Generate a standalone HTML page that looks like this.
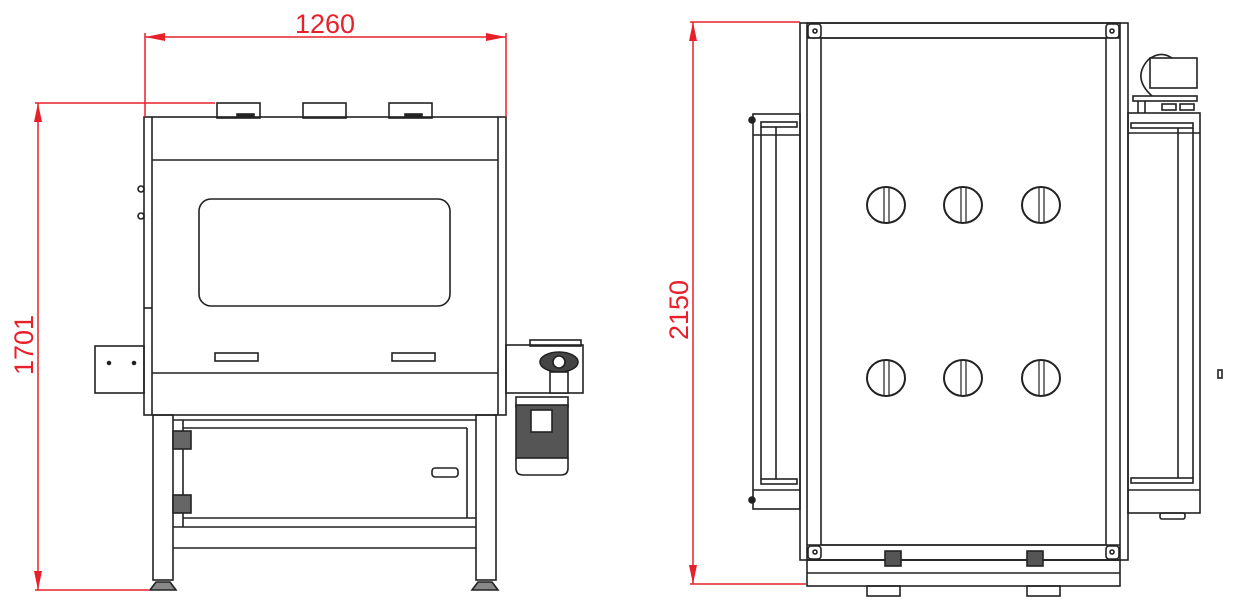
<!DOCTYPE html>
<html><head><meta charset="utf-8"><style>
html,body{margin:0;padding:0;background:#fff;}
svg{display:block;}
text{font-family:"Liberation Sans",sans-serif;}
</style></head><body>
<svg width="1236" height="612" viewBox="0 0 1236 612" xmlns="http://www.w3.org/2000/svg">
<g stroke="#222" stroke-width="1.6" fill="none">
<!-- LEFT VIEW -->
<rect x="217" y="103" width="43" height="15"/>
<rect x="303" y="103" width="43" height="15"/>
<rect x="389" y="103" width="43" height="15"/>
<rect x="237" y="114" width="17" height="3" fill="#222"/>
<rect x="405" y="114" width="17" height="3" fill="#222"/>
<rect x="144" y="117" width="362" height="298"/>
<line x1="152" y1="117" x2="152" y2="415"/>
<line x1="498" y1="117" x2="498" y2="415"/>
<line x1="152" y1="160" x2="498" y2="160"/>
<line x1="152" y1="373" x2="498" y2="373"/>
<line x1="152" y1="308" x2="144" y2="308"/>
<rect x="199" y="199" width="251" height="107" rx="12"/>
<circle cx="141" cy="189" r="3"/><circle cx="141" cy="216" r="3"/>
<rect x="215" y="353" width="43" height="8"/>
<rect x="392" y="353" width="43" height="8"/>
<rect x="95" y="346" width="49" height="47"/>
<circle cx="109" cy="363" r="1.5" fill="#222"/><circle cx="134" cy="363" r="1.5" fill="#222"/>
<rect x="506" y="345" width="77" height="48"/>
<rect x="530" y="340" width="51" height="6"/>
<ellipse cx="559" cy="362" rx="19" ry="10" fill="#444"/>
<circle cx="559" cy="362" r="6" fill="#fff"/>
<rect x="550" y="372" width="18" height="21" fill="#fff"/>
<rect x="516" y="397" width="52" height="10"/>
<rect x="516" y="405" width="52" height="53" fill="#555"/>
<rect x="531" y="410" width="21" height="22" fill="#fff"/>
<path d="M516 458 L516 468 Q516 475 523 475 L561 475 Q568 475 568 468 L568 458"/>
<!-- stand -->
<rect x="153" y="415" width="20" height="165"/>
<rect x="476" y="415" width="20" height="165"/>
<line x1="173" y1="420" x2="476" y2="420"/>
<line x1="183" y1="428" x2="467" y2="428"/>
<line x1="183" y1="420" x2="183" y2="527"/>
<line x1="467" y1="428" x2="467" y2="518"/>
<line x1="183" y1="518" x2="476" y2="518"/>
<line x1="173" y1="527" x2="476" y2="527"/>
<line x1="173" y1="548" x2="476" y2="548"/>
<rect x="173" y="431" width="18" height="18" fill="#666"/>
<rect x="173" y="495" width="18" height="18" fill="#666"/>
<rect x="432" y="468" width="26" height="9" rx="3"/>
<path d="M150 590 L156 582 L170 582 L176 590 Z" fill="#888"/>
<path d="M472 590 L478 582 L492 582 L498 590 Z" fill="#888"/>
<!-- RIGHT VIEW -->
<rect x="800" y="23" width="328" height="537"/>
<rect x="807" y="23" width="313" height="537"/>
<rect x="821" y="38" width="285" height="507"/>
<line x1="807" y1="38" x2="1120" y2="38"/>
<line x1="807" y1="545" x2="1120" y2="545"/>
<rect x="807" y="560" width="313" height="26"/>
<line x1="807" y1="573" x2="1120" y2="573"/>
<rect x="867" y="586" width="33" height="10"/>
<rect x="1027" y="586" width="33" height="10"/>
<rect x="808" y="24" width="13" height="14" rx="3"/><circle cx="815" cy="31" r="2"/>
<rect x="1106" y="24" width="13" height="14" rx="3"/><circle cx="1112" cy="31" r="2"/>
<rect x="808" y="546" width="13" height="13" rx="3"/><circle cx="815" cy="552" r="2"/>
<rect x="1106" y="546" width="13" height="13" rx="3"/><circle cx="1112" cy="552" r="2"/>
<rect x="885" y="551" width="16" height="15" fill="#555"/>
<rect x="1027" y="551" width="16" height="15" fill="#555"/>
<g stroke-width="2">
<ellipse cx="886" cy="205" rx="19" ry="18"/><ellipse cx="963" cy="205" rx="19" ry="18"/><ellipse cx="1041" cy="205" rx="19" ry="18"/>
<ellipse cx="886" cy="378" rx="19" ry="18"/><ellipse cx="963" cy="378" rx="19" ry="18"/><ellipse cx="1041" cy="378" rx="19" ry="18"/>
</g>
<g stroke-width="1.2">
<line x1="884" y1="188" x2="884" y2="222"/><line x1="889" y1="188" x2="889" y2="222"/>
<line x1="961" y1="188" x2="961" y2="222"/><line x1="966" y1="188" x2="966" y2="222"/>
<line x1="1039" y1="188" x2="1039" y2="222"/><line x1="1044" y1="188" x2="1044" y2="222"/>
<line x1="884" y1="361" x2="884" y2="395"/><line x1="889" y1="361" x2="889" y2="395"/>
<line x1="961" y1="361" x2="961" y2="395"/><line x1="966" y1="361" x2="966" y2="395"/>
<line x1="1039" y1="361" x2="1039" y2="395"/><line x1="1044" y1="361" x2="1044" y2="395"/>
</g>
<!-- left side conveyor -->
<rect x="753" y="114" width="47" height="395"/>
<line x1="753" y1="135" x2="800" y2="135"/>
<line x1="753" y1="490" x2="800" y2="490"/>
<rect x="761" y="122" width="36" height="5"/>
<rect x="761" y="479" width="36" height="5"/>
<line x1="761" y1="127" x2="761" y2="479"/>
<line x1="776" y1="127" x2="776" y2="479"/>
<circle cx="752" cy="120" r="3" fill="#222"/><circle cx="752" cy="500" r="3" fill="#222"/>
<!-- right side conveyor -->
<rect x="1128" y="113" width="72" height="400"/>
<line x1="1128" y1="133" x2="1200" y2="133"/>
<line x1="1128" y1="490" x2="1200" y2="490"/>
<rect x="1131" y="123" width="62" height="5"/>
<rect x="1131" y="478" width="62" height="5"/>
<line x1="1193" y1="128" x2="1193" y2="478"/>
<line x1="1178" y1="128" x2="1178" y2="478"/>
<rect x="1160" y="513" width="25" height="6" rx="2"/>
<path d="M1152 96 Q1132 78 1148 60 Q1160 50 1172 58"/>
<rect x="1150" y="58" width="47" height="30"/>
<rect x="1133" y="96" width="64" height="5"/>
<line x1="1138" y1="101" x2="1138" y2="113"/><line x1="1145" y1="101" x2="1145" y2="113"/>
<rect x="1162" y="104" width="14" height="6"/><rect x="1180" y="104" width="14" height="6"/>
<rect x="1218" y="370" width="4" height="8"/>
</g>
<!-- DIMENSIONS -->
<g stroke="#e8202a" stroke-width="1.5" fill="none">
<line x1="145" y1="37" x2="506" y2="37"/>
<line x1="145" y1="33" x2="145" y2="117"/>
<line x1="506" y1="33" x2="506" y2="117"/>
<line x1="38" y1="103" x2="38" y2="590"/>
<line x1="35" y1="103" x2="215" y2="103"/>
<line x1="35" y1="590" x2="150" y2="590"/>
<line x1="693" y1="22" x2="693" y2="584"/>
<line x1="690" y1="22" x2="800" y2="22"/>
<line x1="690" y1="584" x2="806" y2="584"/>
</g>
<g fill="#e8202a">
<path d="M145 37 L165 33 L165 41 Z"/><path d="M506 37 L486 33 L486 41 Z"/>
<path d="M38 103 L34 122 L42 122 Z"/><path d="M38 590 L34 571 L42 571 Z"/>
<path d="M693 22 L689 41 L697 41 Z"/><path d="M693 584 L689 565 L697 565 Z"/>
</g>
<g fill="#e8202a" font-size="27">
<text x="325" y="33" text-anchor="middle">1260</text>
<text transform="translate(33,345) rotate(-90)" text-anchor="middle">1701</text>
<text transform="translate(688,310) rotate(-90)" text-anchor="middle">2150</text>
</g>
</svg>
</body></html>
